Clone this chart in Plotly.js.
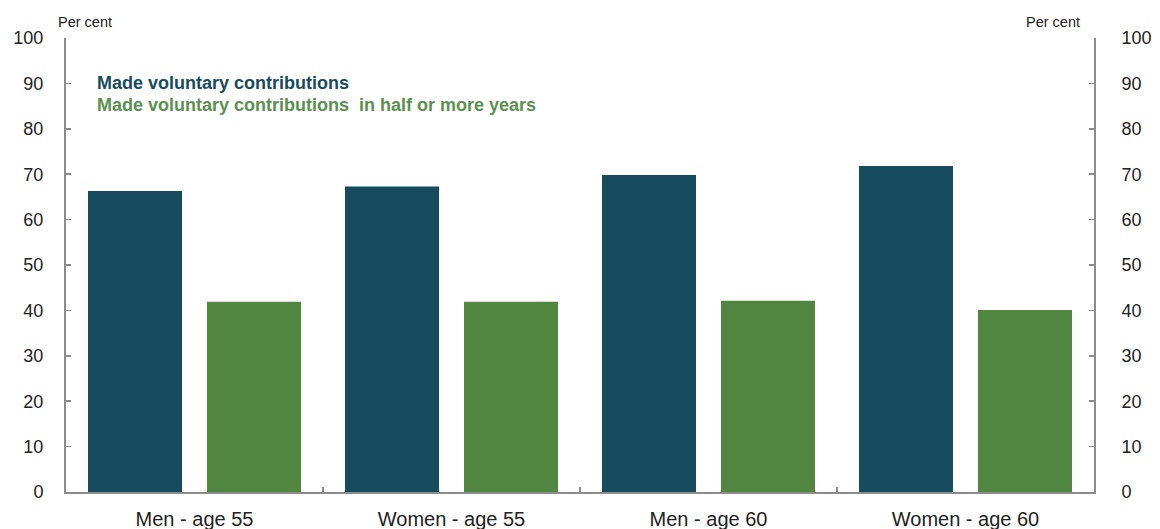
<!DOCTYPE html>
<html>
<head>
<meta charset="utf-8">
<script src="https://cdn.plot.ly/plotly-3.0.1.min.js"></script>
<style>html,body{margin:0;padding:0;background:#fff;}#chart{width:1160px;height:529px;}</style>
</head>
<body>
<div id="chart"></div>
<script>
const categories = ["Men - age 55", "Women - age 55", "Men - age 60", "Women - age 60"];
const madeVoluntary = [66.3, 67.3, 69.8, 71.8];
const halfOrMoreYears = [41.9, 41.9, 42.1, 40.1];
const seriesNames = ["Made voluntary contributions", "Made voluntary contributions  in half or more years"];
const yTicks = [0, 10, 20, 30, 40, 50, 60, 70, 80, 90, 100];

const darkBlue = "#174c5f";
const green = "#518641";
const axisGrey = "#8c8c8c";
const font = "Liberation Sans, Arial, sans-serif";

const traces = [
  {type: "bar", name: seriesNames[0], x: categories, y: madeVoluntary, marker: {color: darkBlue}, hoverinfo: "y"},
  {type: "bar", name: seriesNames[1], x: categories, y: halfOrMoreYears, marker: {color: green}, hoverinfo: "y"},
  {type: "scatter", mode: "none", x: categories, y: madeVoluntary, yaxis: "y2", showlegend: false, hoverinfo: "skip"}
];

const yCommon = {
  range: [0, 100], tickvals: yTicks, ticktext: yTicks.map(String),
  ticks: "inside", ticklen: 5, tickwidth: 1.5, tickcolor: axisGrey,
  showline: true, linecolor: axisGrey, linewidth: 2, showgrid: false, zeroline: false,
  tickfont: {family: font, size: 18, color: "#222"}, fixedrange: true
};

const layout = {
  width: 1160, height: 529,
  margin: {l: 66, r: 66, t: 38, b: 37},
  paper_bgcolor: "#fff", plot_bgcolor: "#fff",
  showlegend: false,
  barmode: "group", bargap: 0.074, bargroupgap: 0.21,
  xaxis: {
    type: "category", showline: true, linecolor: axisGrey, linewidth: 2,
    ticks: "inside", ticklen: 5, tickcolor: axisGrey, tickwidth: 1.5, tickson: "boundaries",
    showgrid: false, zeroline: false,
    tickfont: {family: font, size: 20, color: "#222"}, ticklabelstandoff: 8
  },
  yaxis: Object.assign({}, yCommon, {side: "left", ticklabelstandoff: 17}),
  yaxis2: Object.assign({}, yCommon, {side: "right", overlaying: "y", ticklabelstandoff: 22}),
  annotations: [
    {text: "Per cent", xref: "paper", yref: "paper", x: 0, y: 1, xshift: -10, yshift: 6, xanchor: "left", yanchor: "bottom", showarrow: false, font: {family: font, size: 14.5, color: "#222"}},
    {text: "Per cent", xref: "paper", yref: "paper", x: 1, y: 1, xshift: -12, yshift: 6, xanchor: "right", yanchor: "bottom", showarrow: false, font: {family: font, size: 14.5, color: "#222"}},
    {text: "<b>" + seriesNames[0] + "</b>", xref: "paper", yref: "paper", x: 0.03, y: 0.9, xshift: -2, xanchor: "left", yanchor: "middle", showarrow: false, font: {family: font, size: 18, color: darkBlue}},
    {text: "<b>" + seriesNames[1] + "</b>", xref: "paper", yref: "paper", x: 0.03, y: 0.852, xshift: -2, xanchor: "left", yanchor: "middle", showarrow: false, font: {family: font, size: 18, color: "#5a9150"}}
  ]
};

Plotly.newPlot("chart", traces, layout, {staticPlot: true, displayModeBar: false});
</script>
</body>
</html>
